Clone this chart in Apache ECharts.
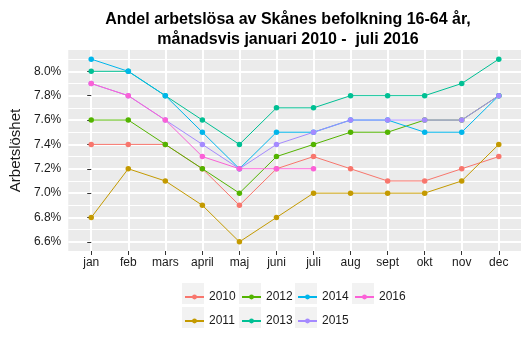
<!DOCTYPE html>
<html>
<head>
<meta charset="utf-8">
<script src="https://cdn.jsdelivr.net/npm/echarts@6/dist/echarts.min.js"></script>
<style>
  html, body { margin: 0; padding: 0; background: #fff; }
  #chart { width: 528px; height: 337px; }
</style>
</head>
<body>
<div id="chart"></div>
<script>
// Monthly unemployment share (%) in Skåne, population 16-64
const months = ['jan', 'feb', 'mars', 'april', 'maj', 'juni', 'juli', 'aug', 'sept', 'okt', 'nov', 'dec'];
const years = ['2010', '2011', '2012', '2013', '2014', '2015', '2016'];

const y2010 = [7.4, 7.4, 7.4, 7.2, 6.9, 7.2, 7.3, 7.2, 7.1, 7.1, 7.2, 7.3];
const y2011 = [6.8, 7.2, 7.1, 6.9, 6.6, 6.8, 7.0, 7.0, 7.0, 7.0, 7.1, 7.4];
const y2012 = [7.6, 7.6, 7.4, 7.2, 7.0, 7.3, 7.4, 7.5, 7.5, 7.6, 7.6, 7.8];
const y2013 = [8.0, 8.0, 7.8, 7.6, 7.4, 7.7, 7.7, 7.8, 7.8, 7.8, 7.9, 8.1];
const y2014 = [8.1, 8.0, 7.8, 7.5, 7.2, 7.5, 7.5, 7.6, 7.6, 7.5, 7.5, 7.8];
const y2015 = [7.9, 7.8, 7.6, 7.4, 7.2, 7.4, 7.5, 7.6, 7.6, 7.6, 7.6, 7.8];
const y2016 = [7.9, 7.8, 7.6, 7.3, 7.2, 7.2, 7.2];

const seriesValues = [y2010, y2011, y2012, y2013, y2014, y2015, y2016];
const colors = ['#F8766D', '#C49A00', '#53B400', '#00C094', '#00B6EB', '#A58AFF', '#FB61D7'];

const yTicks = [6.6, 6.8, 7.0, 7.2, 7.4, 7.6, 7.8, 8.0];
const yMinor = [6.7, 6.9, 7.1, 7.3, 7.5, 7.7, 7.9, 8.1];

// legend columns (two rows, filled column by column)
const legendColumns = [['2010', '2011'], ['2012', '2013'], ['2014', '2015'], ['2016']];
const legendLeft = [184, 241, 297, 354];
const legendTop = 293;
const legendRowGap = 24;

const chart = echarts.init(document.getElementById('chart'), null, { renderer: 'canvas' });

const textColor = '#1a1a1a';
const fontFamily = '"Liberation Sans", Arial, sans-serif';
const xIdx = months.map((m, i) => i);

const series = seriesValues.map((vals, k) => ({
  name: years[k],
  type: 'line',
  xAxisIndex: 0,
  yAxisIndex: 0,
  data: vals.map((v, i) => [i, v]),
  symbol: 'circle',
  symbolSize: 5.5,
  showSymbol: true,
  lineStyle: { width: 1, color: colors[k] },
  itemStyle: { color: colors[k] },
  emphasis: { disabled: true },
  animation: false,
  z: 3 + k
}));

const legends = legendColumns.map((col, c) => ({
  orient: 'vertical',
  left: legendLeft[c],
  top: legendTop - 3,
  data: col,
  itemWidth: 19,
  itemHeight: 6,
  itemGap: legendRowGap - 14,
  padding: 0,
  selectedMode: false,
  textStyle: { fontSize: 12, color: textColor, fontFamily: fontFamily, lineHeight: 14, padding: [0, 0, 0, 0] }
}));

// light grey key boxes behind the legend symbols
const keyBoxes = [];
legendColumns.forEach((col, c) => {
  col.forEach((name, r) => {
    keyBoxes.push({
      type: 'rect',
      left: legendLeft[c] - 2,
      top: legendTop - 7 + r * legendRowGap - 3,
      shape: { width: 22, height: 21 },
      style: { fill: '#F2F2F2' },
      z: -1
    });
  });
});

const option = {
  backgroundColor: '#ffffff',
  color: colors,
  animation: false,
  title: {
    text: 'Andel arbetslösa av Skånes befolkning 16-64 år,\nmånadsvis januari 2010 -  juli 2016',
    left: 283,
    top: 5,
    textAlign: 'center',
    textStyle: { fontSize: 16, fontWeight: 'bold', color: '#000', fontFamily: fontFamily, lineHeight: 20 }
  },
  grid: {
    left: 62, right: 7, top: 50, bottom: 86,
    show: true, backgroundColor: '#EBEBEB', borderWidth: 0
  },
  xAxis: [{
    type: 'value',
    min: -0.62,
    max: 11.6,
    axisLine: { show: false },
    axisTick: { show: true, customValues: xIdx, length: 4, lineStyle: { color: '#333', width: 1 } },
    axisLabel: {
      customValues: xIdx,
      formatter: v => months[Math.round(v)],
      margin: 6, fontSize: 12, color: textColor, fontFamily: fontFamily
    },
    splitLine: { show: true, lineStyle: { color: '#ffffff', width: 2 } }
  }],
  yAxis: [{
    type: 'value',
    min: 6.525,
    max: 8.175,
    name: 'Arbetslöshet',
    nameLocation: 'middle',
    nameGap: 38,
    nameTextStyle: { fontSize: 15, color: textColor, fontFamily: fontFamily },
    axisLine: { show: false },
    axisTick: { show: true, customValues: yTicks, length: 4, lineStyle: { color: '#333', width: 1 } },
    axisLabel: {
      customValues: yTicks,
      formatter: v => v.toFixed(1) + '%',
      margin: 7, fontSize: 12, color: textColor, fontFamily: fontFamily
    },
    splitLine: { show: true, lineStyle: { color: '#ffffff', width: 2 } }
  }, {
    type: 'value',
    min: 6.525,
    max: 8.175,
    position: 'left',
    axisLine: { show: false },
    axisTick: { show: false, customValues: yMinor },
    axisLabel: { show: false },
    splitLine: { show: true, lineStyle: { color: '#ffffff', width: 1 } }
  }],
  legend: legends,
  graphic: keyBoxes,
  series: series
};

chart.setOption(option);
</script>
</body>
</html>
